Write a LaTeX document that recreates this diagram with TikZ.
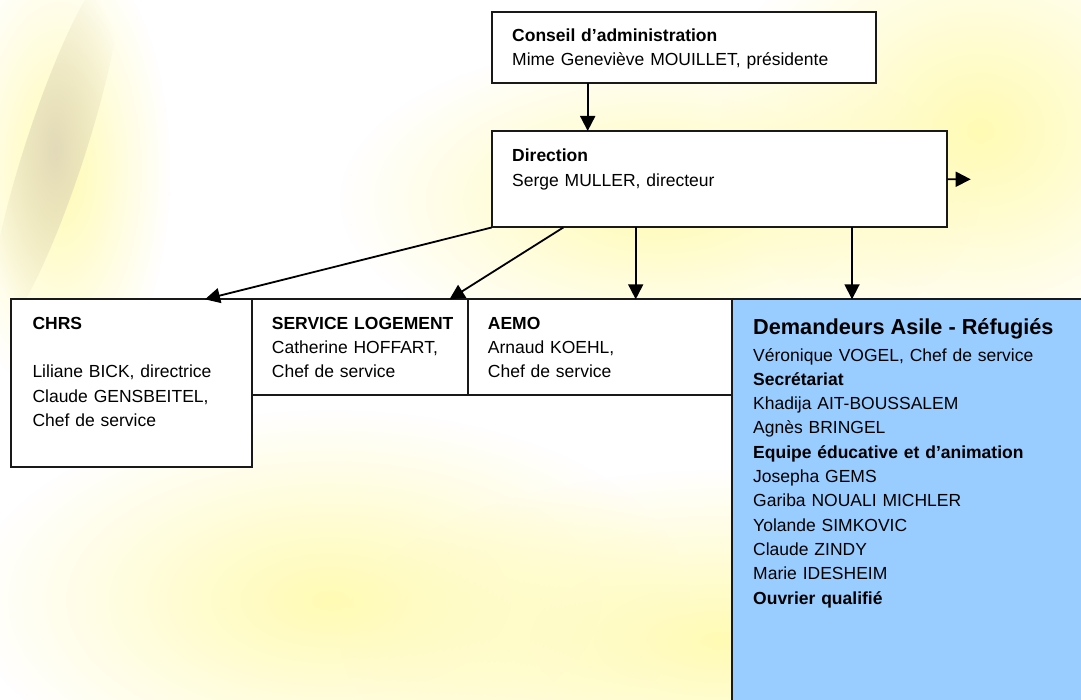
\documentclass[tikz,border=0pt]{standalone}
\usepackage{fontspec}
\setmainfont{Liberation Sans}
\usetikzlibrary{arrows.meta,fadings}
\tikzfading[name=softblob, inner color=transparent!0, outer color=transparent!100]
\definecolor{bluebox}{RGB}{153,204,255}
\definecolor{paleyel}{RGB}{255,251,180}
\definecolor{tanband}{RGB}{226,218,185}
\definecolor{edgecol}{RGB}{25,25,25}
\tikzset{
  box/.style={draw=edgecol, line width=2pt, fill=white, anchor=north west, outer sep=0pt, inner sep=0pt},
  txt/.style={anchor=base west, inner sep=0pt, align=left, text width=#1, font=\fontsize{17.5}{24.3}\selectfont},
  ttl/.style={anchor=base west, inner sep=0pt, font=\fontsize{21.7}{26}\selectfont\bfseries},
  arr/.style={draw=black, line width=1.8pt, -{Triangle[length=15pt,width=15pt]}},
  blob/.style={fill=paleyel, path fading=softblob},
}
\begin{document}
\begin{tikzpicture}[x=1pt,y=-1pt]
\useasboundingbox (0,0) rectangle (1081,700);
\clip (0,0) rectangle (1081,700);
\fill[white] (0,0) rectangle (1081,700);
% background blobs
\fill[blob] (330,600) ellipse (360 and 190);
\fill[blob] (720,640) ellipse (380 and 170);
\fill[blob] (980,130) ellipse (260 and 230);
\fill[blob] (660,200) ellipse (320 and 160);
\fill[blob] (60,170) ellipse (110 and 230);
\fill[tanband, path fading=softblob] (55,150) ellipse [x radius=30, y radius=190, rotate=-18];

% boxes
\node[box, minimum width=384pt, minimum height=71pt] (conseil) at (491.7,11.7) {};
\node[box, minimum width=455.6pt, minimum height=96.5pt] (direction) at (491.7,131) {};
\node[box, minimum width=240.7pt, minimum height=168pt] (chrs) at (11,299.3) {};
\node[box, minimum width=215.8pt, minimum height=95.7pt] (logement) at (251.7,299.3) {};
\node[box, minimum width=264.2pt, minimum height=95.2pt] (aemo) at (467.5,299.3) {};
\node[box, fill=bluebox, minimum width=370pt, minimum height=420pt] (dar) at (731.7,299.3) {};

% texts
\node[txt=360pt] (conseilT) at (512,41.7) {\textbf{Conseil d’administration}\\Mime Geneviève MOUILLET, présidente};
\node[txt=400pt] (directionT) at (512,162) {\textbf{Direction}\\Serge MULLER, directeur};
\node[txt=215pt] (chrsT) at (32.3,329.3) {\textbf{CHRS}\\[24.3pt]Liliane BICK, directrice\\Claude GENSBEITEL,\\Chef de service};
\node[txt=200pt] (logementT) at (271.7,329.3) {\textbf{SERVICE LOGEMENT}\\Catherine HOFFART,\\Chef de service};
\node[txt=230pt] (aemoT) at (487.7,329.3) {\textbf{AEMO}\\Arnaud KOEHL,\\Chef de service};
\node[ttl] (darT) at (753,335) {Demandeurs Asile - Réfugiés};
\node[txt=320pt] (darB) at (753,361) {Véronique VOGEL, Chef de service\\\textbf{Secrétariat}\\Khadija AIT-BOUSSALEM\\Agnès BRINGEL\\\textbf{Equipe éducative et d’animation}\\Josepha GEMS\\Gariba NOUALI MICHLER\\Yolande SIMKOVIC\\Claude ZINDY\\Marie IDESHEIM\\\textbf{Ouvrier qualifié}};

% connectors
\draw[arr] ([xshift=96pt]conseil.south west) -- ([xshift=96pt]direction.north west);
\draw[arr] (direction.south west) -- ([xshift=194pt]chrs.north west);
\draw[arr] ([xshift=71.6pt]direction.south west) -- ([xshift=197.8pt]logement.north west);
\draw[arr] ([xshift=144pt]direction.south west) coordinate (d3) -- (d3 |- aemo.north);
\draw[arr] ([xshift=360.3pt]direction.south west) coordinate (d4) -- (d4 |- dar.north);
\coordinate (rt) at (970.7,179.3);
\draw[arr] (direction.east) -- (rt);
\end{tikzpicture}
\end{document}
